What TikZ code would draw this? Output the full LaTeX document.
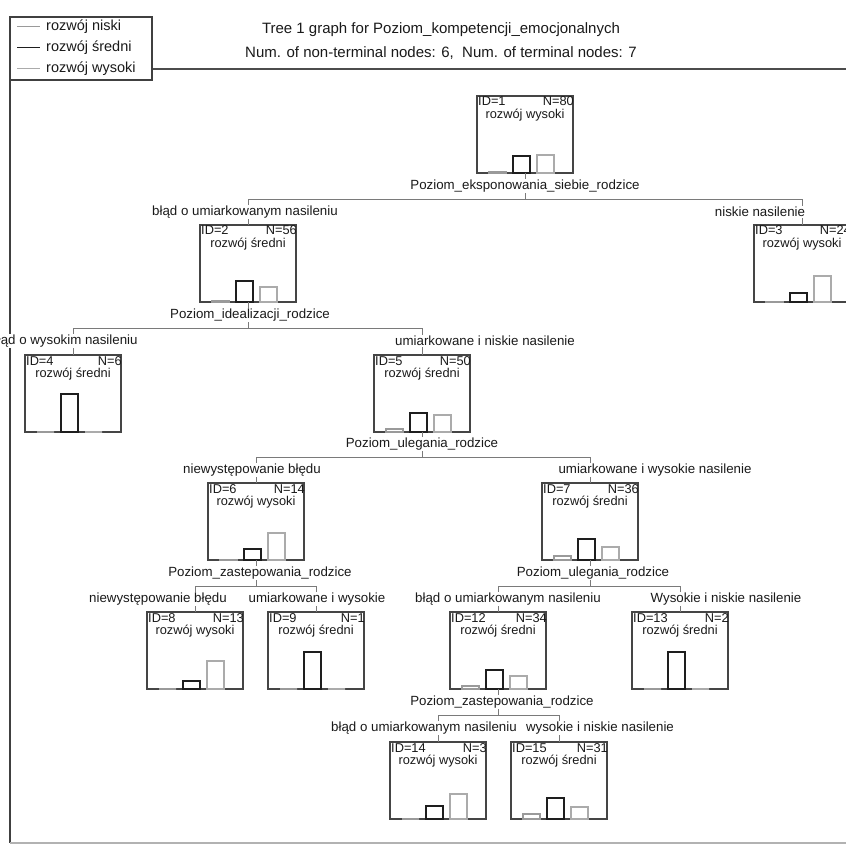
\documentclass[tikz,border=0pt]{standalone}
\usepackage{fontspec}
\setmainfont{Liberation Sans}
\usetikzlibrary{calc}
\definecolor{boxc}{HTML}{454545}
\definecolor{lowc}{HTML}{9A9A9A}
\definecolor{midc}{HTML}{1E1E1E}
\definecolor{highc}{HTML}{ABABAB}
\definecolor{connc}{HTML}{7A7A7A}
\definecolor{txtc}{HTML}{1A1A1A}
\newcommand\tnode[9]{%
  \node[tbox] (#1) at (#2,#3+38.5) {};
  \node[ntext,anchor=base west] (#1id) at ($(#1.north west)+(1,10)$) {ID=#4};
  \node[ntext,anchor=base east] (#1n) at ($(#1.north east)+(1,10)$) {N=#5};
  \node[ntext,anchor=base] (#1cl) at ($(#1.north)+(0,22.5)$) {rozwój #6};
  \draw[bara] ($(#1.south west)+(12,0)$) rectangle ++(17,-#7);
  \draw[barb] ($(#1.south west)+(36,0)$) rectangle ++(17,-#8);
  \draw[barc] ($(#1.south west)+(60,0)$) rectangle ++(17,-#9);
}
\begin{document}
\begin{tikzpicture}[x=1pt,y=-1pt,
  tbox/.style={draw=boxc,line width=1.2pt,minimum width=96pt,minimum height=77pt,inner sep=0pt,outer sep=0pt},
  ntext/.style={font=\fontsize{12.8}{13}\selectfont,inner sep=0pt,text=txtc},
  lbl/.style={font=\fontsize{13.3}{14}\selectfont,fill=white,inner sep=1pt,text=txtc},
  ttl/.style={font=\fontsize{15}{16}\selectfont,inner sep=0pt,text=txtc},
  legt/.style={font=\fontsize{14.5}{15}\selectfont,inner sep=0pt,text=txtc,anchor=west},
  conn/.style={draw=connc,line width=0.8pt},
  bara/.style={draw=lowc,line width=1.1pt},
  barb/.style={draw=midc,line width=1.1pt},
  barc/.style={draw=highc,line width=1.1pt}]
\useasboundingbox (0,0) rectangle (846,845);
\fill[white] (0,0) rectangle (846,845);
% frame
\draw[draw=black!70,line width=1.5pt] (152,69) -- (846,69);
\draw[draw=black!75,line width=1.2pt] (10,80) -- (10,843);
\draw[draw=black!30,line width=1.5pt] (10,843) -- (846,843);
% legend
\node[draw=black!75,line width=1.2pt,fill=white,minimum width=142pt,minimum height=63pt,inner sep=0pt] (legend) at (81,48.5) {};
\draw[lowc,line width=1pt] (17,27) -- (40,27);
\draw[midc,line width=1pt] (17,48) -- (40,48);
\draw[highc,line width=1pt] (17,69) -- (40,69);
\node[legt] (leg1) at (46,27) {rozwój niski};
\node[legt] (leg2) at (46,48) {rozwój średni};
\node[legt] (leg3) at (46,69) {rozwój wysoki};
% title
\node[ttl] (title1) at (441,30) {Tree 1 graph for Poziom\_kompetencji\_emocjonalnych};
\node[ttl] (title2) at (441,53) {Num. of non-terminal nodes: 6,\ \ Num. of terminal nodes: 7};
% tree nodes
\tnode{n1}{525}{96}{1}{80}{wysoki}{1.5}{17}{18}
\tnode{n2}{248}{225}{2}{56}{średni}{1.5}{21}{15}
\tnode{n3}{802}{225}{3}{24}{wysoki}{0.5}{9}{26}
\tnode{n4}{73}{355}{4}{6}{średni}{0}{38}{0}
\tnode{n5}{422}{355}{5}{50}{średni}{3}{19}{17}
\tnode{n6}{256}{483}{6}{14}{wysoki}{0.5}{11}{27}
\tnode{n7}{590}{483}{7}{36}{średni}{4}{21}{13}
\tnode{n8}{195}{612}{8}{13}{wysoki}{0}{8}{28}
\tnode{n9}{316}{612}{9}{1}{średni}{0}{37}{0}
\tnode{n12}{498}{612}{12}{34}{średni}{3}{19}{13}
\tnode{n13}{680}{612}{13}{2}{średni}{0}{37}{0}
\tnode{n14}{438}{742}{14}{3}{wysoki}{0}{13}{25}
\tnode{n15}{559}{742}{15}{31}{średni}{5}{21}{12}
% split coordinates
\coordinate (s1) at (525,199);
\coordinate (s2) at (248,328);
\coordinate (s5) at (422,457);
\coordinate (s6) at (256,586);
\coordinate (s7) at (590,586);
\coordinate (s12) at (498,715);
% connectors
\draw[conn] (n1.south) -- (s1);
\draw[conn] (n2.north) -- (n2.north |- s1) -- (n3.north |- s1) -- (n3.north);
\draw[conn] (n2.south) -- (s2);
\draw[conn] (n4.north) -- (n4.north |- s2) -- (n5.north |- s2) -- (n5.north);
\draw[conn] (n5.south) -- (s5);
\draw[conn] (n6.north) -- (n6.north |- s5) -- (n7.north |- s5) -- (n7.north);
\draw[conn] (n6.south) -- (s6);
\draw[conn] (n8.north) -- (n8.north |- s6) -- (n9.north |- s6) -- (n9.north);
\draw[conn] (n7.south) -- (s7);
\draw[conn] (n12.north) -- (n12.north |- s7) -- (n13.north |- s7) -- (n13.north);
\draw[conn] (n12.south) -- (s12);
\draw[conn] (n14.north) -- (n14.north |- s12) -- (n15.north |- s12) -- (n15.north);
% split variable labels
\node[lbl] (v1) at (525,186) {Poziom\_eksponowania\_siebie\_rodzice};
\node[lbl] (v2) at (250,315) {Poziom\_idealizacji\_rodzice};
\node[lbl] (v5) at (422,444) {Poziom\_ulegania\_rodzice};
\node[lbl] (v6) at (260,573) {Poziom\_zastepowania\_rodzice};
\node[lbl] (v7) at (593,573) {Poziom\_ulegania\_rodzice};
\node[lbl] (v12) at (502,702) {Poziom\_zastepowania\_rodzice};
% branch labels
\node[lbl] (b2) at (245,212) {błąd o umiarkowanym nasileniu};
\node[lbl] (b3) at (760,212) {niskie nasilenie};
\node[lbl] (b4) at (64,341) {błąd o wysokim nasileniu};
\node[lbl] (b5) at (485,341) {umiarkowane i niskie nasilenie};
\node[lbl] (b6) at (252,470) {niewystępowanie błędu};
\node[lbl] (b7) at (655,470) {umiarkowane i wysokie nasilenie};
\node[lbl] (b8) at (158,599) {niewystępowanie błędu};
\node[lbl] (b9) at (317,599) {umiarkowane i wysokie};
\node[lbl] (b12) at (508,599) {błąd o umiarkowanym nasileniu};
\node[lbl] (b13) at (726,599) {Wysokie i niskie nasilenie};
\node[lbl] (b14) at (424,728) {błąd o umiarkowanym nasileniu};
\node[lbl] (b15) at (600,728) {wysokie i niskie nasilenie};
\end{tikzpicture}
\end{document}
